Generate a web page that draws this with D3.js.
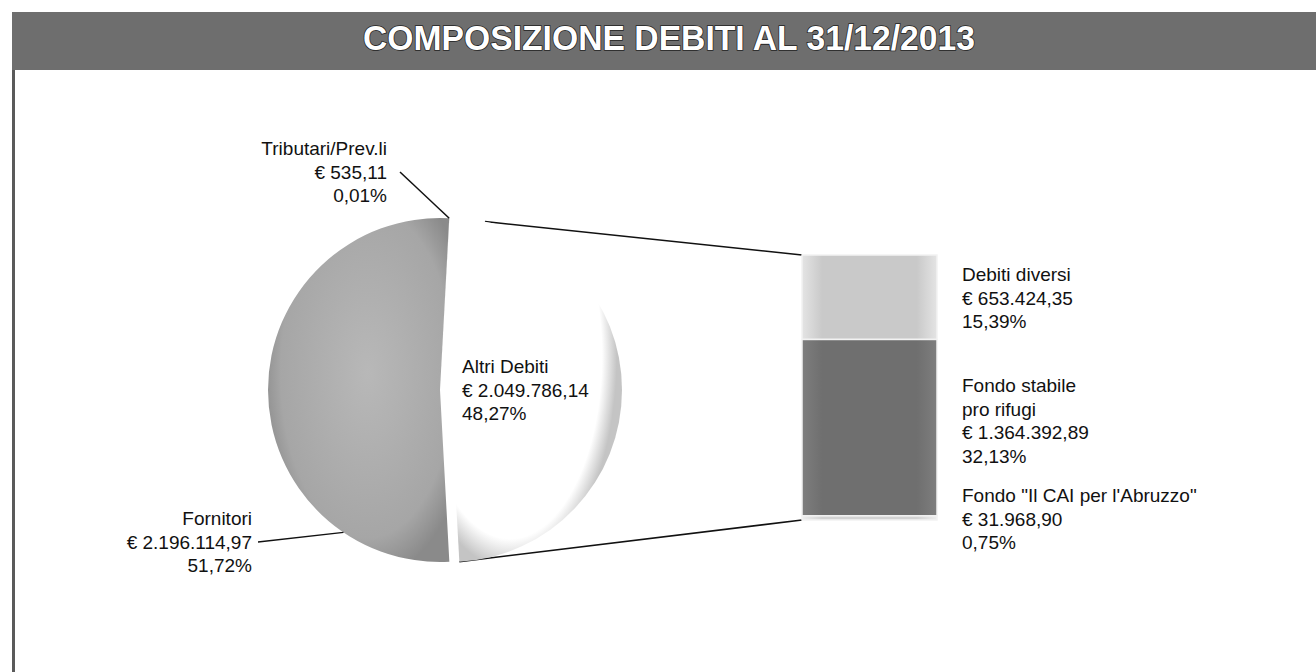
<!DOCTYPE html>
<html>
<head>
<meta charset="utf-8">
<script src="https://cdn.jsdelivr.net/npm/d3@7"></script>
<style>
  body { margin: 0; background: #fff; }
  text { font-family: "Liberation Sans", Arial, sans-serif; }
</style>
</head>
<body>
<svg id="chart" width="1316" height="672"></svg>
<script>
// pie slices (display order round the pie, clockwise from the top-right)
var pieNames = ["Altri Debiti", "Fornitori", "Tributari/Prev.li"];
var pieValues = [2049786.14, 2196114.97, 535.11];

// bar of pie: breakdown of "Altri Debiti", top to bottom
var barNames = [["Debiti diversi"], ["Fondo stabile", "pro rifugi"], ["Fondo \"Il CAI per l'Abruzzo\""]];
var barValues = [653424.35, 1364392.89, 31968.90];

var title = "COMPOSIZIONE DEBITI AL 31/12/2013";

d3.select(window).on('load', init);

function init() {

  var svg = d3.select("#chart");
  var it = d3.formatLocale({decimal: ",", thousands: ".", grouping: [3], currency: ["€ ", ""]});
  var money = it.format("$,.2f"),
      pctf = it.format(",.2f");

  var total = d3.sum(pieValues);
  function pct(v) { return pctf(v / total * 100) + "%"; }

  var defs = svg.append("defs");

  var g1 = defs.append("radialGradient").attr("id", "gForn")
      .attr("cx", "0.55").attr("cy", "0.45").attr("r", "0.6");
  g1.append("stop").attr("offset", "0%").attr("stop-color", "#b8b8b8");
  g1.append("stop").attr("offset", "80%").attr("stop-color", "#a6a6a6");
  g1.append("stop").attr("offset", "100%").attr("stop-color", "#8a8a8a");

  var g2 = defs.append("radialGradient").attr("id", "gAltri")
      .attr("cx", "0.35").attr("cy", "0.4").attr("r", "0.62");
  g2.append("stop").attr("offset", "0%").attr("stop-color", "#ffffff");
  g2.append("stop").attr("offset", "86%").attr("stop-color", "#ffffff");
  g2.append("stop").attr("offset", "100%").attr("stop-color", "#c4c4c4");

  var barFills = ["#c9c9c9", "#6f6f6f", "#d2d2d2"];
  barFills.forEach(function(c, i) {
    var lg = defs.append("linearGradient").attr("id", "gBar" + i);
    lg.append("stop").attr("offset", "0%").attr("stop-color", d3.color(c).brighter(0.35));
    lg.append("stop").attr("offset", "15%").attr("stop-color", c);
    lg.append("stop").attr("offset", "85%").attr("stop-color", c);
    lg.append("stop").attr("offset", "100%").attr("stop-color", d3.color(c).brighter(0.35));
  });

  // title band
  svg.append("rect")
      .attr("x", 12).attr("y", 12)
      .attr("width", 1304).attr("height", 58)
      .attr("fill", "#6e6e6e");
  svg.append("line")
      .attr("x1", 13.5).attr("x2", 13.5)
      .attr("y1", 70).attr("y2", 672)
      .attr("stroke", "#5a5a5a").attr("stroke-width", 3);
  svg.append("text")
      .attr("x", 669).attr("y", 50)
      .attr("text-anchor", "middle")
      .attr("textLength", 612).attr("lengthAdjust", "spacingAndGlyphs")
      .style("font-size", "35px").style("font-weight", "bold")
      .attr("fill", "#fff").attr("stroke", "#222").attr("stroke-width", 1.6)
      .attr("paint-order", "stroke")
      .text(title);

  // pie
  var cx = 440, cy = 390, r = 172, explode = 10;
  var altriAngle = pieValues[0] / total * 2 * Math.PI;
  var start = Math.PI / 2 - altriAngle / 2;
  var pie = d3.pie().sort(null).startAngle(start).endAngle(start + 2 * Math.PI);
  var arcs = pie(pieValues);
  var arc = d3.arc().innerRadius(0).outerRadius(r);

  function onArc(a, rad, dx) {
    return [cx + (dx || 0) + rad * Math.sin(a), cy - rad * Math.cos(a)];
  }

  // bar of pie
  var barX = 802, barW = 135, barTop = 255, barBottom = 520;
  var y = d3.scaleLinear().domain([0, d3.sum(barValues)]).range([barTop, barBottom]);
  var cum = d3.cumsum(barValues);
  var segs = barValues.map(function(v, i) {
    return {v: v, y0: i ? cum[i - 1] : 0, y1: cum[i], i: i};
  });

  // connectors
  var pTop = onArc(arcs[0].startAngle + 0.15, r, explode),
      pBot = onArc(arcs[0].endAngle, r, explode);
  svg.append("line").attr("x1", pTop[0]).attr("y1", pTop[1])
      .attr("x2", barX).attr("y2", y(0))
      .attr("stroke", "#111").attr("stroke-width", 1.5);
  svg.append("line").attr("x1", pBot[0]).attr("y1", pBot[1])
      .attr("x2", barX).attr("y2", y(d3.sum(barValues)))
      .attr("stroke", "#111").attr("stroke-width", 1.5);

  var pg = svg.append("g");
  pg.selectAll("path")
      .data(arcs)
      .enter().append("path")
      .attr("transform", function(d, i) {
        return "translate(" + (cx + (i === 0 ? explode : 0)) + "," + cy + ")";
      })
      .attr("d", arc)
      .attr("fill", function(d, i) { return i === 0 ? "url(#gAltri)" : i === 1 ? "url(#gForn)" : "#9a9a9a"; });

  svg.selectAll(".seg")
      .data(segs)
      .enter().append("rect")
      .attr("class", "seg")
      .attr("x", barX)
      .attr("width", barW)
      .attr("y", function(d) { return y(d.y0); })
      .attr("height", function(d) { return y(d.y1) - y(d.y0); })
      .attr("fill", function(d) { return "url(#gBar" + d.i + ")"; })
      .attr("stroke", "#f2f2f2").attr("stroke-width", 1.5);

  // labels
  var lh = 23.5;
  function label(x, y0, anchor, lines) {
    var t = svg.append("text").attr("x", x).attr("y", y0)
        .attr("text-anchor", anchor)
        .style("font-size", "19px").attr("fill", "#111");
    lines.forEach(function(s, k) {
      t.append("tspan").attr("x", x).attr("y", y0 + k * lh).text(s);
    });
  }

  // Tributari
  label(387, 155, "end", [pieNames[2], money(pieValues[2]), pct(pieValues[2])]);
  var pTr = onArc(arcs[2].startAngle, r, 0);
  svg.append("line").attr("x1", 400).attr("y1", 172)
      .attr("x2", pTr[0]).attr("y2", pTr[1])
      .attr("stroke", "#111").attr("stroke-width", 1.5);

  // Fornitori
  label(252, 525, "end", [pieNames[1], money(pieValues[1]), pct(pieValues[1])]);
  var pFo = onArc(arcs[1].startAngle + 0.65, r, 0);
  svg.append("line").attr("x1", 258).attr("y1", 542)
      .attr("x2", pFo[0]).attr("y2", pFo[1])
      .attr("stroke", "#111").attr("stroke-width", 1.5);

  // Altri Debiti
  label(462, 373, "start", [pieNames[0], money(pieValues[0]), pct(pieValues[0])]);

  // bar labels
  var barLabelY = [281, 392, 502];
  segs.forEach(function(d) {
    label(962, barLabelY[d.i], "start", barNames[d.i].concat([money(d.v), pct(d.v)]));
  });
}
</script>
</body>
</html>
